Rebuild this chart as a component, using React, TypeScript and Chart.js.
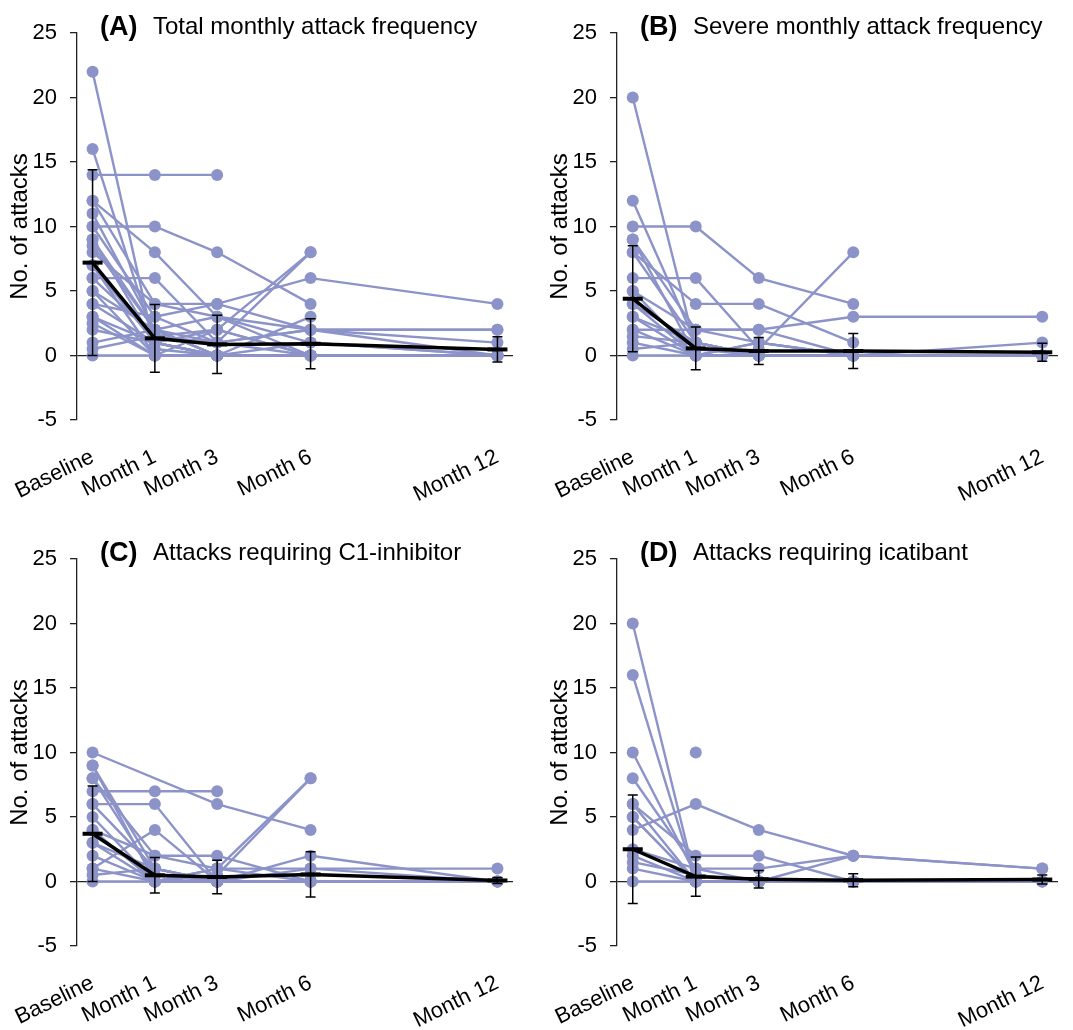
import React, { useEffect, useRef } from "react";
import { Chart, registerables } from "chart.js";

Chart.register(...registerables);

// ---- Data ----
const timeLabels = ["Baseline", "Month 1", "Month 3", "Month 6", "Month 12"];
const timeValues = [-1, 1, 3, 6, 12];

// Panel A: total monthly attack frequency (one row per patient: Baseline, M1, M3, M6, M12)
const totalAttacks: (number | null)[][] = [
  [22, 0.5, 0, null, null],
  [16, 1, 0, null, null],
  [14, 14, 14, null, null],
  [12, 8, 3, 0, null],
  [12, 4, 4, 6, 4],
  [11, 2, 1, 2, 2],
  [10, 10, 8, 4, null],
  [10, 3, 1, 8, null],
  [9, 2, 0, 3, null],
  [9, 1, 2, 0, null],
  [8.5, 2, 0, 0, 0],
  [8, 4, 3, 2, 2],
  [7, 1, 0, 1, 0],
  [7, 0, 0, 0, 0],
  [6, 6, 1, 2, 1],
  [6, 1.5, 2, 8, null],
  [5, 2, 3, 1, 0],
  [5, 0, 0, 0, 0],
  [4, 1, 0, 0, 0],
  [4, 3, 4, 2, 0],
  [3, 0, 0, 0, 0],
  [3, 1, 0, null, null],
  [2.5, 0, 2, 0, 0],
  [2, 1, 0, 0, null],
  [1, 2, 0, 0, 0],
  [0.5, 1.5, 1, 0, null],
  [0, 0, 0, 0, 0],
];
const totalMean = [7.2, 1.33, 0.86, 0.91, 0.47];
const totalSd = [7.2, 2.63, 2.26, 1.94, 0.98];

// Panel B: severe monthly attack frequency
const severeAttacks: (number | null)[][] = [
  [20, 0.5, 0, null, null],
  [12, 1, 0, 0, null],
  [10, 10, 6, 4, null],
  [9, 0, 0, 0, null],
  [9, 2, 1, 0, 0],
  [8, 4, 4, 1, null],
  [8, 1, 0, 0, 0],
  [6, 6, 0.5, 8, null],
  [5, 2, 2, 3, 3],
  [5, 0, 0, 0, null],
  [4, 1, 0, 0, 0],
  [4, 0, 1, 0, null],
  [3, 0, 0, 0, 1],
  [3, 1, 0, null, null],
  [2, 2, 2, 0, null],
  [2, 0, 1, 0, null],
  [1.5, 1, 0, 0, 0],
  [1, 0, 0, null, null],
  [0.5, 1, 0, 0, null],
  [0, 0, 0, 0, 0],
];
const severeMean = [4.4, 0.55, 0.35, 0.35, 0.25];
const severeSd = [4.1, 1.65, 1.05, 1.35, 0.7];

// Panel C: attacks requiring C1-inhibitor
const c1Attacks: (number | null)[][] = [
  [10, null, 6, 4, null],
  [9, 1, 0, 0, null],
  [9, 0, 0, null, null],
  [8, 0.5, 0, 1, 0],
  [8, 2, 1, 8, null],
  [7, 7, 7, null, null],
  [6, 6, 0, 0, null],
  [6, 1, 0, null, null],
  [5, 0, 0, 0, 0],
  [4, 2, 2, 0, null],
  [4, 0, 0.5, 8, null],
  [3, 1, 0, 2, 0],
  [3, 0, 0, 0, null],
  [2, 0, 1, 1, 1],
  [1, 4, 0, 0, null],
  [1, 0, 1, 0, 0],
  [0.5, 1, 0, null, null],
  [0, 0, 0, 0, 0],
];
const c1Mean = [3.7, 0.48, 0.35, 0.55, 0.08];
const c1Sd = [3.7, 1.38, 1.3, 1.75, 0.23];

// Panel D: attacks requiring icatibant
const icatibantAttacks: (number | null)[][] = [
  [20, 0, 0, null, null],
  [16, 0, 0, 0, null],
  [10, 0.5, 0, null, null],
  [8, 1, 0, 0, 0],
  [6, 0, 0, null, null],
  [6, 2, 2, 0, null],
  [5, 0, 0, 0, 0],
  [5, 0, 0, null, null],
  [4, 6, 4, 2, 1],
  [2.5, 1, 1, 2, null],
  [2, 0, 0, 2, 1],
  [1.5, 0.5, 0, 0, null],
  [1, 0, 0, null, null],
  [0, 0, 0, 0, 0],
  [null, 10, null, null, null],
];
const icatibantMean = [2.5, 0.38, 0.18, 0.1, 0.15];
const icatibantSd = [4.2, 1.52, 0.68, 0.5, 0.35];

// ---- Styling ----
const FONT = "'Liberation Sans', Arial, Helvetica, sans-serif";
const PURPLE = "#8c93c8";

const panelTitlePlugin = {
  id: "panelTitle",
  afterDraw(chart: any, _args: any, opts: any) {
    const { ctx, chartArea } = chart;
    ctx.save();
    ctx.fillStyle = "#000";
    ctx.textAlign = "left";
    ctx.textBaseline = "alphabetic";
    ctx.font = `bold 27px ${FONT}`;
    ctx.fillText(opts.letter, chartArea.left + 23, chartArea.top + 2);
    ctx.font = `24px ${FONT}`;
    ctx.fillText(opts.text, chartArea.left + 76, chartArea.top + 1);
    ctx.restore();
  },
};

const errorBarPlugin = {
  id: "errorBars",
  afterDatasetsDraw(chart: any, _args: any, opts: any) {
    const { ctx } = chart;
    const xs = chart.scales.x;
    const ys = chart.scales.y;
    ctx.save();
    ctx.strokeStyle = "#000";
    ctx.lineWidth = 1.5;
    opts.mean.forEach((m: number, i: number) => {
      const px = xs.getPixelForValue(timeValues[i]);
      const top = ys.getPixelForValue(m + opts.sd[i]);
      const bot = ys.getPixelForValue(m - opts.sd[i]);
      ctx.beginPath();
      ctx.moveTo(px, top);
      ctx.lineTo(px, bot);
      ctx.moveTo(px - 5, top);
      ctx.lineTo(px + 5, top);
      ctx.moveTo(px - 5, bot);
      ctx.lineTo(px + 5, bot);
      ctx.stroke();
    });
    ctx.restore();
  },
};

type PanelProps = {
  left: number;
  top: number;
  letter: string;
  title: string;
  patients: (number | null)[][];
  mean: number[];
  sd: number[];
  padRight: number;
};

const W = 533;
const H = 504;

function Panel({ left, top, letter, title, patients, mean, sd, padRight }: PanelProps) {
  const ref = useRef<HTMLCanvasElement | null>(null);
  useEffect(() => {
    if (!ref.current) return;
    const meanDs = {
      label: "Mean",
      data: timeValues.map((x, i) => ({ x, y: mean[i] })),
      borderColor: "#000",
      backgroundColor: "#000",
      borderWidth: 3.5,
      pointStyle: "line",
      pointRadius: 10,
      pointBorderWidth: 4,
      pointBorderColor: "#000",
      pointBackgroundColor: "#000",
      tension: 0,
    };
    const patientDs = patients.map((row, k) => ({
      label: `Patient ${k + 1}`,
      data: timeValues.map((x, i) => ({ x, y: row[i] })),
      borderColor: PURPLE,
      backgroundColor: PURPLE,
      borderWidth: 2.4,
      pointRadius: 6,
      pointBorderWidth: 0,
      pointBackgroundColor: PURPLE,
      spanGaps: true,
      tension: 0,
    }));
    const chart = new Chart(ref.current, {
      type: "line",
      data: { datasets: [meanDs, ...patientDs] as any },
      plugins: [panelTitlePlugin, errorBarPlugin],
      options: {
        responsive: false,
        animation: false,
        layout: { padding: { top: 33, left: 0, right: padRight, bottom: 0 } },
        plugins: {
          legend: { display: false },
          tooltip: { enabled: false },
          title: { display: false },
          panelTitle: { letter, text: title },
          errorBars: { mean, sd },
        } as any,
        scales: {
          x: {
            type: "linear",
            min: -1.5,
            max: 12.5,
            position: "bottom",
            grid: { display: false, drawTicks: false },
            border: { display: false },
            ticks: {
              autoSkip: false,
              minRotation: 26,
              maxRotation: 26,
              padding: 24,
              color: "#000",
              font: { family: FONT, size: 22 },
              callback: (v: any) => {
                const i = timeValues.indexOf(Number(v));
                return i >= 0 ? timeLabels[i] : "";
              },
            },
            afterBuildTicks: (s: any) => {
              s.ticks = timeValues.map((v) => ({ value: v }));
            },
            afterFit: (s: any) => {
              s.height = 84;
              s.paddingLeft = 0;
              s.paddingRight = 0;
            },
          },
          y: {
            min: -5,
            max: 25,
            ticks: {
              stepSize: 5,
              color: "#000",
              padding: 13,
              font: { family: FONT, size: 22 },
            },
            grid: {
              color: (c: any) => (c.tick && c.tick.value === 0 ? "#222" : "rgba(0,0,0,0)"),
              lineWidth: 1.3,
              tickColor: "#222",
              tickLength: 7,
              tickWidth: 1.3,
            },
            border: { color: "#222", width: 1.3 },
            title: {
              display: true,
              text: "No. of attacks",
              color: "#000",
              font: { family: FONT, size: 24 },
              padding: { top: 6, bottom: 0 },
            },
            afterFit: (s: any) => {
              s.width = 77;
              s.paddingTop = 0;
              s.paddingBottom = 0;
            },
          },
        } as any,
      },
    });
    return () => chart.destroy();
  }, []);
  return (
    <canvas
      ref={ref}
      width={W}
      height={H}
      style={{ position: "absolute", left, top, width: W, height: H }}
    />
  );
}

export default function App() {
  return (
    <div style={{ position: "absolute", left: 0, top: 0, width: 1073, height: 1030, background: "#fff" }}>
      <Panel left={0} top={0} letter="(A)" title="Total monthly attack frequency" patients={totalAttacks} mean={totalMean} sd={totalSd} padRight={20} />
      <Panel left={540} top={0} letter="(B)" title="Severe monthly attack frequency" patients={severeAttacks} mean={severeMean} sd={severeSd} padRight={15} />
      <Panel left={0} top={526} letter="(C)" title="Attacks requiring C1-inhibitor" patients={c1Attacks} mean={c1Mean} sd={c1Sd} padRight={20} />
      <Panel left={540} top={526} letter="(D)" title="Attacks requiring icatibant" patients={icatibantAttacks} mean={icatibantMean} sd={icatibantSd} padRight={15} />
    </div>
  );
}
